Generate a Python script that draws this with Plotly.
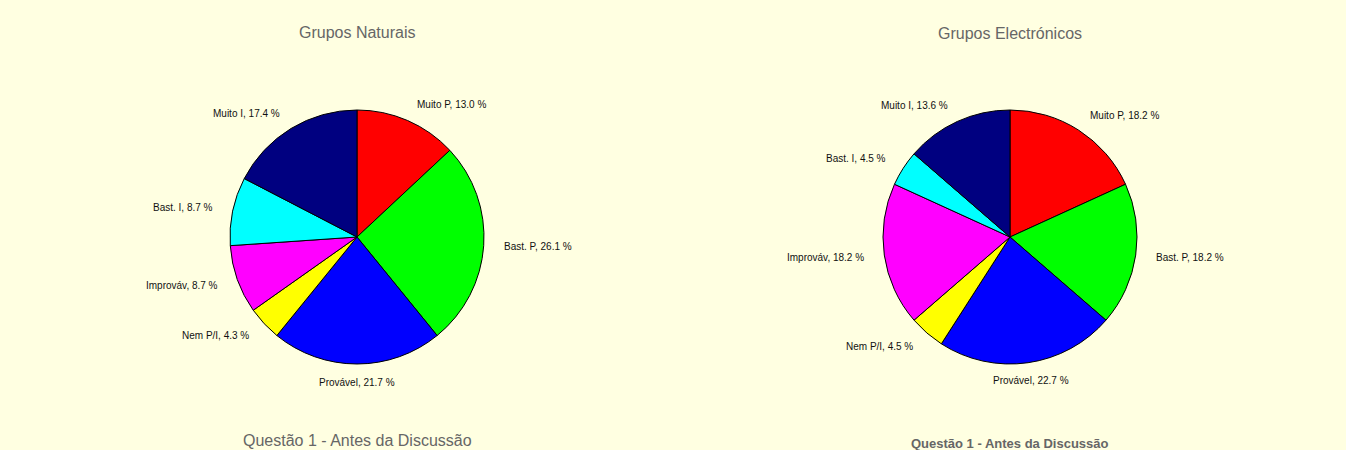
import math
import plotly.graph_objects as go

# Response categories (same order in both groups)
categories = ["Muito P", "Bast. P", "Provável", "Nem P/I", "Improváv", "Bast. I", "Muito I"]
slice_colors = ["#FF0000", "#00FF00", "#0000FF", "#FFFF00", "#FF00FF", "#00FFFF", "#000080"]

# Answer counts per group
natural_counts = [3, 6, 5, 1, 2, 2, 4]
electronic_counts = [4, 4, 5, 1, 4, 1, 3]

W, H = 1346, 450
R = 127          # pie radius, px
CY = 237         # pie centre height from top, px
LABEL_GAP = 18   # distance of the labels beyond the rim, px

bg = "#FFFFE1"
font_family = "Liberation Sans, Arial, sans-serif"
label_font = dict(family=font_family, size=10, color="#111111")
title_font = dict(family=font_family, size=16, color="#666666")

fig = go.Figure()


def add_group(counts, cx):
    total = sum(counts)
    fig.add_trace(go.Pie(
        labels=categories,
        values=counts,
        textinfo="none",
        sort=False,
        direction="clockwise",
        rotation=0,
        marker=dict(colors=slice_colors, line=dict(color="#000000", width=1)),
        domain=dict(x=[(cx - R) / W, (cx + R) / W], y=[1 - (CY + R) / H, 1 - (CY - R) / H]),
        showlegend=False,
        hoverinfo="skip",
    ))
    # slice labels sitting just outside the rim at each slice's mid-angle
    cum = 0
    for name, c in zip(categories, counts):
        mid = (cum + c / 2) / total * 2 * math.pi
        cum += c
        s, co = math.sin(mid), math.cos(mid)
        px = cx + (R + LABEL_GAP) * s
        py = CY - (R + LABEL_GAP) * co
        if abs(s) < 0.2:
            xa = "center"
        elif s > 0:
            xa = "left"
        else:
            xa = "right"
        fig.add_annotation(
            text=f"{name}, {c / total * 100:.1f} %",
            x=px / W, y=1 - py / H, xref="paper", yref="paper",
            xanchor=xa, yanchor="middle", showarrow=False, font=label_font,
        )


add_group(natural_counts, 357)
add_group(electronic_counts, 1010)

fig.add_annotation(text="Grupos Naturais", x=357 / W, y=1 - 32 / H,
                   xref="paper", yref="paper", xanchor="center", yanchor="middle",
                   showarrow=False, font=title_font)
fig.add_annotation(text="Grupos Electrónicos", x=1010 / W, y=1 - 33 / H,
                   xref="paper", yref="paper", xanchor="center", yanchor="middle",
                   showarrow=False, font=title_font)
fig.add_annotation(text="Questão 1 - Antes da Discussão", x=357 / W, y=1 - 440 / H,
                   xref="paper", yref="paper", xanchor="center", yanchor="middle",
                   showarrow=False, font=title_font)
fig.add_annotation(text="<b>Questão 1 - Antes da Discussão</b>", x=1010 / W, y=1 - 443 / H,
                   xref="paper", yref="paper", xanchor="center", yanchor="middle",
                   showarrow=False, font=dict(family=font_family, size=13, color="#666666"))

fig.update_layout(
    width=W,
    height=H,
    margin=dict(l=0, r=0, t=0, b=0),
    paper_bgcolor=bg,
    plot_bgcolor=bg,
)

fig.write_html("out.html")
